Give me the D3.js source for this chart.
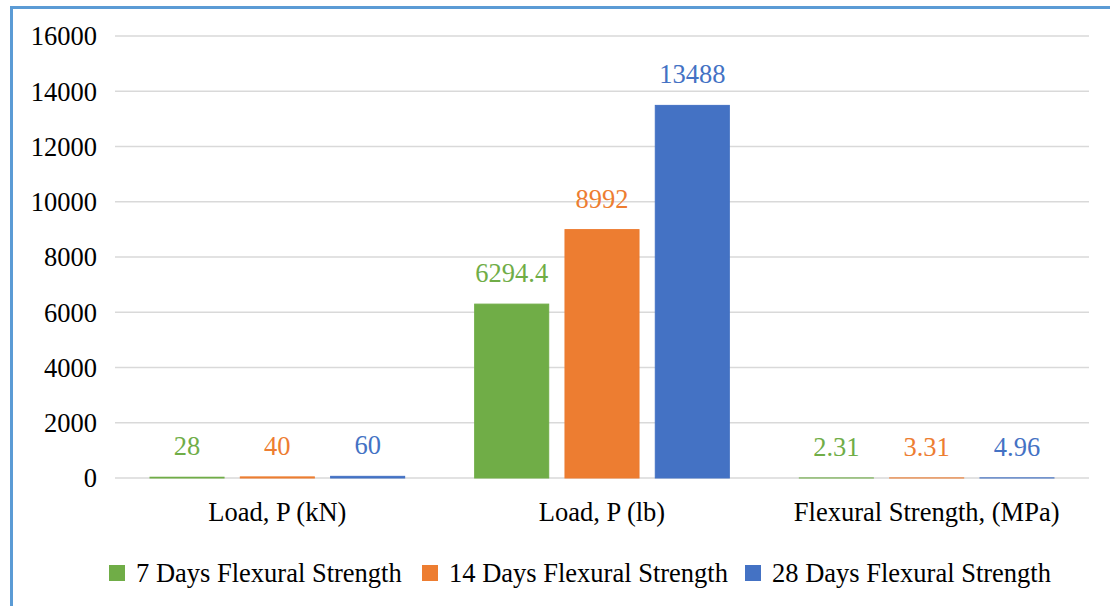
<!DOCTYPE html>
<html>
<head>
<meta charset="utf-8">
<script src="https://cdn.jsdelivr.net/npm/d3@7"></script>
<style>
  body { margin: 0; background: #fff; }
</style>
</head>
<body>
<svg id="chart" width="1110" height="606"></svg>
<script>
// chart data
const categories = ['Load, P (kN)', 'Load, P (lb)', 'Flexural Strength, (MPa)'];
const seriesNames = ['7 Days Flexural Strength', '14 Days Flexural Strength', '28 Days Flexural Strength'];
const days7 = [28, 6294.4, 2.31];
const days14 = [40, 8992, 3.31];
const days28 = [60, 13488, 4.96];
const yTicks = [0, 2000, 4000, 6000, 8000, 10000, 12000, 14000, 16000];
const colors = ['#70ad47', '#ed7d31', '#4472c4'];

const seriesValues = [days7, days14, days28];
const svg = d3.select('#chart')
  .style('font-family', '"Liberation Serif", "Times New Roman", serif');
const width = 1110;
const height = 606;
const fontSize = 26.5;

// outer frame (runs off right and bottom)
svg.append('rect')
  .attr('x', 11.5)
  .attr('y', 7.5)
  .attr('width', width + 20)
  .attr('height', height + 20)
  .attr('fill', 'none')
  .attr('stroke', '#5b9bd5')
  .attr('stroke-width', 3);

const plot = { left: 115, right: 1089, top: 36, bottom: 478 };

const y = d3.scaleLinear().domain([0, 16000]).range([plot.bottom, plot.top]);
const x0 = d3.scaleBand().domain(categories).range([plot.left, plot.right]);
const x1 = d3.scaleBand().domain(seriesNames)
  .range([35, x0.bandwidth() - 35])
  .paddingInner(0.18);

// gridlines
svg.append('g').attr('class', 'grid')
  .selectAll('line')
  .data(yTicks)
  .join('line')
  .attr('x1', plot.left)
  .attr('x2', plot.right)
  .attr('y1', d => y(d))
  .attr('y2', d => y(d))
  .attr('stroke', '#d9d9d9')
  .attr('stroke-width', 1.5);

// y tick labels
svg.append('g').attr('class', 'y-labels')
  .selectAll('text')
  .data(yTicks)
  .join('text')
  .attr('x', plot.left - 18)
  .attr('y', d => y(d))
  .attr('dy', '0.35em')
  .attr('text-anchor', 'end')
  .attr('font-size', fontSize)
  .attr('fill', '#000')
  .text(d => d);

// bars + value labels
seriesNames.forEach((name, si) => {
  const g = svg.append('g').attr('class', 'series');
  const rows = categories.map((c, ci) => ({ cat: c, value: seriesValues[si][ci] }));
  g.selectAll('rect')
    .data(rows)
    .join('rect')
    .attr('x', d => x0(d.cat) + x1(name))
    .attr('y', d => y(d.value))
    .attr('width', x1.bandwidth())
    .attr('height', d => y(0) - y(d.value))
    .attr('fill', colors[si])
    .attr('stroke', colors[si])
    .attr('stroke-width', 1);
  g.selectAll('text')
    .data(rows)
    .join('text')
    .attr('x', d => x0(d.cat) + x1(name) + x1.bandwidth() / 2)
    .attr('y', d => y(d.value) - 22)
    .attr('text-anchor', 'middle')
    .attr('font-size', fontSize)
    .attr('fill', colors[si])
    .text(d => d.value);
});

// category labels
svg.append('g').attr('class', 'x-labels')
  .selectAll('text')
  .data(categories)
  .join('text')
  .attr('x', d => x0(d) + x0.bandwidth() / 2)
  .attr('y', 521)
  .attr('text-anchor', 'middle')
  .attr('font-size', fontSize)
  .attr('fill', '#000')
  .text(d => d);

// legend
const legendX = [109, 422, 745];
const legend = svg.append('g').attr('class', 'legend');
seriesNames.forEach((name, i) => {
  const item = legend.append('g').attr('transform', `translate(${legendX[i]},565)`);
  item.append('rect')
    .attr('width', 16)
    .attr('height', 16)
    .attr('fill', colors[i]);
  item.append('text')
    .attr('x', 27)
    .attr('y', 8)
    .attr('dy', '0.35em')
    .attr('font-size', fontSize)
    .attr('fill', '#000')
    .text(name);
});
</script>
</body>
</html>
